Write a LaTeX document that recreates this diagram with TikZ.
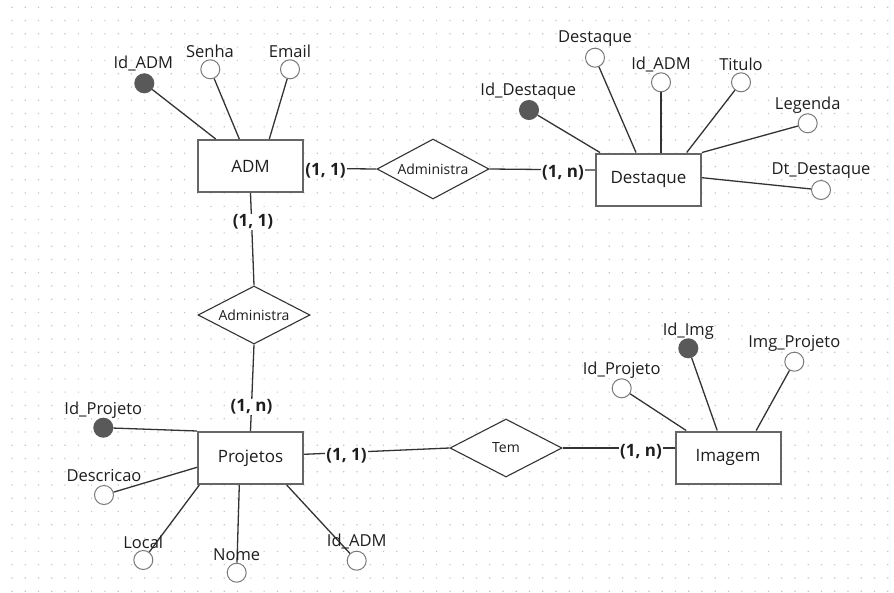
\documentclass[tikz,border=0pt]{standalone}
\usepackage{fontspec}
\setmainfont{Open Sans}
\usetikzlibrary{shapes.geometric}
\definecolor{linec}{HTML}{333333}
\definecolor{boxc}{HTML}{666666}
\definecolor{circc}{HTML}{7a7a7a}
\definecolor{keyc}{HTML}{595959}
\definecolor{dotc}{HTML}{c4c4c4}
\definecolor{txtc}{HTML}{1e1e1e}
\tikzset{
  entity/.style={draw=boxc, line width=2pt, fill=white, minimum width=105pt, minimum height=52pt, inner sep=0pt, text=txtc, font=\fontsize{17}{20}\selectfont},
  rel/.style={diamond, aspect=1.95, draw=linec, line width=1.1pt, fill=white, minimum width=112pt, minimum height=58pt, inner sep=0pt, text=txtc, font=\fontsize{14}{16}\selectfont},
  attr/.style={circle, draw=circc, line width=1pt, fill=white, minimum size=19pt, inner sep=0pt},
  keyattr/.style={circle, draw=keyc, line width=1pt, fill=keyc, minimum size=19pt, inner sep=0pt},
  lbl/.style={inner sep=0pt, text=txtc, font=\fontsize{16.5}{19}\selectfont},
  card/.style={fill=white, inner sep=1pt, text=txtc, font=\fontsize{17}{19}\selectfont\bfseries},
  conn/.style={draw=linec, line width=1.3pt},
}
\begin{document}
\begin{tikzpicture}[x=1pt,y=-1pt]
\useasboundingbox (0,0) rectangle (894,592);
\fill[white] (0,0) rectangle (894,592);
\fill[dotc] \foreach \i in {0,...,66}{\foreach \j in {0,...,44}{ (12+13.27*\i-0.6,7.3+13.27*\j-0.6) rectangle ++(1.2,1.2) }};

% entities
\node[entity] (adm) at (250.5,166) {ADM};
\node[entity] (dest) at (648.5,179.5) {Destaque};
\node[entity] (proj) at (250.5,458) {Projetos};
\node[entity] (img) at (728,457.5) {Imagem};

% relationships
\node[rel, minimum height=60pt] (r1) at (433,169) {Administra};
\node[rel] (r2) at (254,315) {Administra};
\node[rel] (r3) at (506,448) {Tem};

% attributes ADM
\node[keyattr] (a1) at (144.3,83.3) {};
\node[attr] (a2) at (210.3,69.3) {};
\node[attr] (a3) at (290,69.3) {};
\node[lbl] (la1) at (143.3,63.3) {Id\_ADM};
\node[lbl] (la2) at (210,51.7) {Senha};
\node[lbl] (la3) at (290,51.7) {Email};

% attributes Destaque
\node[keyattr] (d1) at (529,110) {};
\node[attr] (d2) at (595,57.7) {};
\node[attr] (d3) at (661,82.3) {};
\node[attr] (d4) at (741,82.3) {};
\node[attr] (d5) at (807.7,123.3) {};
\node[attr] (d6) at (821,190) {};
\node[lbl] (ld1) at (528.3,91.7) {Id\_Destaque};
\node[lbl] (ld2) at (595,38.3) {Destaque};
\node[lbl] (ld3) at (661,64.3) {Id\_ADM};
\node[lbl] (ld4) at (741,64.3) {Titulo};
\node[lbl] (ld5) at (807.7,105) {Legenda};
\node[lbl] (ld6) at (821,171) {Dt\_Destaque};

% attributes Projetos
\node[keyattr] (p1) at (103.3,427.7) {};
\node[attr] (p2) at (104,495) {};
\node[attr] (p3) at (143.3,560) {};
\node[attr] (p4) at (236.7,572.7) {};
\node[attr] (p5) at (356.7,560.7) {};

% attributes Imagem
\node[keyattr] (i1) at (688.3,348.3) {};
\node[attr] (i2) at (621.7,388.3) {};
\node[attr] (i3) at (794.3,361.7) {};
\node[lbl] (li1) at (688.3,331) {Id\_Img};
\node[lbl] (li2) at (621.7,370) {Id\_Projeto};
\node[lbl] (li3) at (794.3,343.3) {Img\_Projeto};

% attribute connectors
\draw[conn] (a1) -- ([xshift=18.7pt]adm.north west);
\draw[conn] (a2) -- ([xshift=42.3pt]adm.north west);
\draw[conn] (a3) -- ([xshift=72.3pt]adm.north west);

\draw[conn] (d1) -- ([xshift=5pt]dest.north west);
\draw[conn] (d2) -- ([xshift=41pt]dest.north west);
\draw[conn] (d3) -- ([xshift=66pt]dest.north west);
\draw[conn] (d4) -- ([xshift=91.7pt]dest.north west);
\draw[conn] (d5) -- (dest.north east);
\draw[conn] (d6) -- ([yshift=1.8pt]dest.east);

\draw[conn] (p1) -- (proj.north west);
\draw[conn] (p2) -- ([yshift=-9.3pt]proj.west);
\draw[conn] (p3) -- ([xshift=2.3pt]proj.south west);
\draw[conn] (p4) -- ([xshift=42.3pt]proj.south west);
\draw[conn] (p5) -- ([xshift=89.7pt]proj.south west);

\draw[conn] (i1) -- ([xshift=42.7pt]img.north west);
\draw[conn] (i2) -- ([xshift=11.7pt]img.north west);
\draw[conn] (i3) -- ([xshift=81.7pt]img.north west);

% labels over lines (Projetos attributes)
\node[lbl] (lp1) at (103.3,410) {Id\_Projeto};
\node[lbl] (lp2) at (104,476) {Descricao};
\node[lbl] (lp3) at (143.3,542.3) {Local};
\node[lbl] (lp4) at (236.7,555) {Nome};
\node[lbl] (lp5) at (356.7,541.7) {Id\_ADM};

% relationship connectors
\draw[conn] ([yshift=-2.3pt]adm.east) -- (r1.west);
\draw[conn] (r1.east) -- ([yshift=9.5pt]dest.west);
\draw[conn] (adm.south) -- (r2.north);
\draw[conn] (r2.south) -- (proj.north);
\draw[conn] ([yshift=3.7pt]proj.east) -- (r3.west);
\draw[conn] (r3.east) -- ([yshift=9.5pt]img.west);

% cardinalities
\node[card] (c1) at (325.5,171) {(1, 1)};
\node[card] (c2) at (563,173) {(1, n)};
\node[card] (c3) at (253,222) {(1, 1)};
\node[card] (c4) at (251.5,407) {(1, n)};
\node[card] (c5) at (346.5,455.5) {(1, 1)};
\node[card] (c6) at (641,451.5) {(1, n)};
\end{tikzpicture}
\end{document}
